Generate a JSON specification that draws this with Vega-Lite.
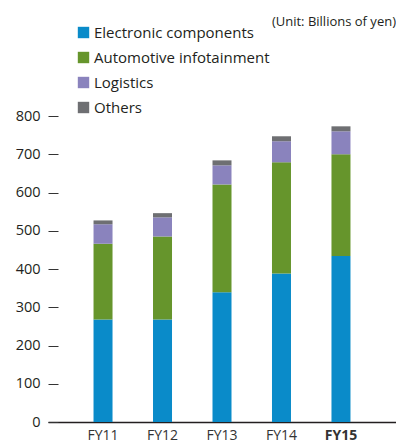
{
  "$schema": "https://vega.github.io/schema/vega-lite/v6.json",
  "width": 348,
  "height": 306,
  "autosize": "none",
  "padding": {"left": 48, "top": 116, "right": 0, "bottom": 21},
  "background": "white",
  "title": {"text": "(Unit: Billions of yen)", "anchor": "end", "orient": "top", "offset": -4, "fontSize": 13, "fontWeight": "normal", "font": "Open Sans", "color": "#231F20"},
  "data": {"values": [
    {"year": "FY11", "segment": "Electronic components", "k": 1, "value": 268},
    {"year": "FY11", "segment": "Automotive infotainment", "k": 2, "value": 198},
    {"year": "FY11", "segment": "Logistics", "k": 3, "value": 51},
    {"year": "FY11", "segment": "Others", "k": 4, "value": 10},
    {"year": "FY12", "segment": "Electronic components", "k": 1, "value": 268},
    {"year": "FY12", "segment": "Automotive infotainment", "k": 2, "value": 217},
    {"year": "FY12", "segment": "Logistics", "k": 3, "value": 50},
    {"year": "FY12", "segment": "Others", "k": 4, "value": 11},
    {"year": "FY13", "segment": "Electronic components", "k": 1, "value": 339},
    {"year": "FY13", "segment": "Automotive infotainment", "k": 2, "value": 282},
    {"year": "FY13", "segment": "Logistics", "k": 3, "value": 50},
    {"year": "FY13", "segment": "Others", "k": 4, "value": 13},
    {"year": "FY14", "segment": "Electronic components", "k": 1, "value": 388},
    {"year": "FY14", "segment": "Automotive infotainment", "k": 2, "value": 291},
    {"year": "FY14", "segment": "Logistics", "k": 3, "value": 55},
    {"year": "FY14", "segment": "Others", "k": 4, "value": 13},
    {"year": "FY15", "segment": "Electronic components", "k": 1, "value": 434},
    {"year": "FY15", "segment": "Automotive infotainment", "k": 2, "value": 266},
    {"year": "FY15", "segment": "Logistics", "k": 3, "value": 60},
    {"year": "FY15", "segment": "Others", "k": 4, "value": 13}
  ]},
  "mark": {"type": "bar", "size": 19},
  "encoding": {
    "x": {
      "field": "year", "type": "nominal", "sort": null,
      "scale": {"paddingInner": 0, "paddingOuter": 0.425},
      "axis": {
        "title": null, "labelAngle": 0, "ticks": false, "grid": false,
        "domainColor": "#231F20", "domainWidth": 1.5,
        "labelFont": "Open Sans", "labelFontSize": 14, "labelColor": "#333333", "labelPadding": 6,
        "labelFontWeight": {"condition": {"test": "datum.value === 'FY15'", "value": "bold"}, "value": "normal"}
      }
    },
    "y": {
      "field": "value", "type": "quantitative", "stack": "zero",
      "scale": {"domain": [0, 800], "nice": false},
      "axis": {
        "title": null, "values": [0, 100, 200, 300, 400, 500, 600, 700, 800],
        "domain": false, "grid": false, "offset": -10, "tickSize": 10, "tickColor": "#333333",
        "labelFont": "Open Sans", "labelFontSize": 14.5, "labelColor": "#231F20", "labelPadding": 8
      }
    },
    "color": {
      "field": "segment", "type": "nominal",
      "scale": {
        "domain": ["Electronic components", "Automotive infotainment", "Logistics", "Others"],
        "range": ["#0A8BC9", "#66952C", "#8A83BD", "#6E6F72"]
      },
      "legend": {
        "title": null, "orient": "none", "legendX": 28, "legendY": -91,
        "symbolType": "square", "symbolSize": 130, "symbolStrokeWidth": 0, "symbolOpacity": 1,
        "labelFont": "Open Sans", "labelFontSize": 15, "labelColor": "#231F20", "labelLimit": 400,
        "rowPadding": 9, "labelOffset": 3
      }
    },
    "order": {"field": "k", "type": "quantitative"}
  },
  "config": {"view": {"stroke": null}}
}
